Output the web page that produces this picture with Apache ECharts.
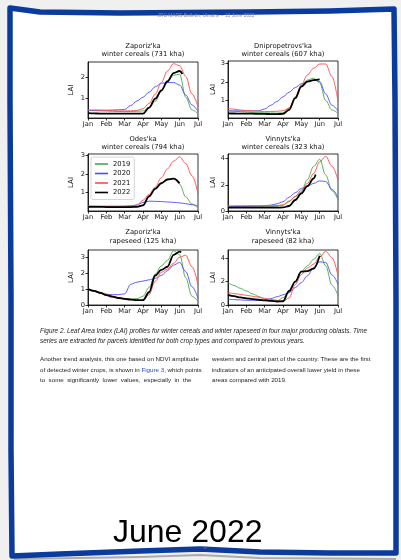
<!DOCTYPE html>
<html><head><meta charset="utf-8">
<script src="https://cdn.jsdelivr.net/npm/echarts@6/dist/echarts.min.js"></script>
<style>html,body{margin:0;padding:0;background:#f0f0f0}#c{width:401px;height:560px}</style>
</head><body><div id="c"></div>
<script>
// ---------- data ----------
const months = ['Jan','Feb','Mar','Apr','May','Jun','Jul'];
// observation dates in months since 1 Jan (dekads)
const dekads = [0,0.33,0.67,1,1.33,1.67,2,2.33,2.67,3,3.33,3.67,4,4.33,4.67,5,5.33,5.67,6];
const years = ['2019','2020','2021','2022'];

const plotTitles = [
  ["Zaporiz'ka", "winter cereals (731 kha)"],
  ["Dnipropetrovs'ka", "winter cereals (607 kha)"],
  ["Odes'ka", "winter cereals (794 kha)"],
  ["Vinnyts'ka", "winter cereals (323 kha)"],
  ["Zaporiz'ka", "rapeseed (125 kha)"],
  ["Vinnyts'ka", "rapeseed (82 kha)"]
];
const yTicks = [[1,2],[1,2,3],[1,2,3],[0,2,4],[0,1,2,3],[0,2,4]];
const yRanges = [[0.06,2.73],[0.07,3.12],[0.03,3.05],[0,4.35],[0,3.45],[0,4.7]];

// Zaporiz'ka winter cereals
const zapWc2019 = [0.42,0.41,0.4,0.39,0.38,0.37,0.37,0.37,0.38,0.4,0.55,0.85,1.35,1.85,2.1,2.15,1.05,0.45,0.25];
const zapWc2020 = [0.42,0.42,0.43,0.43,0.44,0.45,0.47,0.65,0.87,1.05,1.29,1.55,1.71,1.75,1.75,1.63,1.16,0.68,0.37];
const zapWc2021 = [0.45,0.44,0.43,0.42,0.41,0.4,0.4,0.4,0.42,0.5,0.75,1.2,1.75,2.3,2.65,2.55,2.05,1.2,0.6];
const zapWc2022 = [0.29,0.28,0.27,0.27,0.27,0.27,0.27,0.27,0.27,0.27,0.55,0.98,1.37,1.8,2.2,2.3];
// Dnipropetrovs'ka winter cereals
const dniWc2019 = [0.46,0.43,0.41,0.39,0.37,0.36,0.35,0.34,0.33,0.35,0.6,1.15,1.8,2.1,2.2,1.95,1.0,0.5,0.32];
const dniWc2020 = [0.45,0.45,0.45,0.45,0.45,0.46,0.55,0.75,0.95,1.2,1.45,1.7,1.9,2.02,2.1,2.02,1.35,0.75,0.45];
const dniWc2021 = [0.58,0.54,0.5,0.47,0.45,0.43,0.42,0.42,0.43,0.46,0.6,1.2,1.84,2.37,2.73,2.96,2.96,2.29,0.95];
const dniWc2022 = [0.32,0.31,0.3,0.3,0.3,0.29,0.29,0.28,0.28,0.29,0.5,1.13,1.75,2.02,2.1,2.14];
// Odes'ka winter cereals
const odeWc2019 = [0.27,0.27,0.26,0.26,0.26,0.25,0.25,0.25,0.26,0.35,0.82,1.22,1.52,1.72,1.76,1.45,0.78,0.4,0.18];
const odeWc2020 = [0.28,0.28,0.28,0.28,0.28,0.28,0.28,0.3,0.35,0.48,0.55,0.54,0.53,0.51,0.49,0.46,0.42,0.36,0.3];
const odeWc2021 = [0.3,0.29,0.28,0.28,0.28,0.28,0.29,0.3,0.34,0.6,0.91,1.3,1.79,2.26,2.67,2.9,2.55,1.9,0.95];
const odeWc2022 = [0.25,0.25,0.25,0.24,0.24,0.24,0.24,0.24,0.25,0.33,0.8,1.2,1.5,1.7,1.75,1.5];
// Vinnyts'ka winter cereals
const vinWc2019 = [0.33,0.33,0.33,0.33,0.33,0.33,0.33,0.34,0.36,0.45,0.71,1.09,1.47,2.4,3.4,3.95,2.75,1.55,0.85];
const vinWc2020 = [0.33,0.34,0.35,0.36,0.37,0.38,0.4,0.45,0.55,0.71,1.05,1.4,1.72,1.9,2.1,2.3,2.25,1.65,1.05];
const vinWc2021 = [0.4,0.4,0.4,0.4,0.4,0.4,0.4,0.4,0.42,0.46,0.76,1.11,1.6,2.1,2.86,3.75,4.18,3.42,2.35];
const vinWc2022 = [0.26,0.26,0.25,0.25,0.25,0.25,0.25,0.25,0.25,0.27,0.38,0.84,1.34,1.9,2.48];
// Zaporiz'ka rapeseed
const zapRs2019 = [1.0,0.87,0.75,0.62,0.52,0.44,0.4,0.38,0.4,0.55,1.1,1.95,2.45,2.8,3.4,3.15,1.7,0.55,0.22];
const zapRs2020 = [0.96,0.85,0.75,0.67,0.65,0.65,0.7,1.3,1.43,1.5,1.58,1.68,1.85,2.15,2.5,2.67,2.1,1.15,0.42];
const zapRs2021 = [1.02,0.9,0.8,0.68,0.56,0.47,0.4,0.35,0.31,0.29,0.65,1.5,2.05,2.25,2.62,3.0,3.12,2.4,1.27];
const zapRs2022 = [1.0,0.88,0.76,0.62,0.52,0.44,0.38,0.34,0.31,0.3,0.8,1.85,2.2,2.4,3.15,3.35];
// Vinnyts'ka rapeseed
const vinRs2019 = [1.91,1.67,1.43,1.2,0.96,0.73,0.49,0.4,0.34,0.63,1.06,2.0,2.85,3.35,3.9,4.4,3.35,1.7,0.8];
const vinRs2020 = [0.49,0.46,0.43,0.41,0.4,0.4,0.4,0.55,0.7,0.87,1.06,1.49,1.91,2.49,3.2,3.69,3.63,2.57,1.77];
const vinRs2021 = [1.06,0.98,0.9,0.83,0.75,0.66,0.57,0.48,0.4,0.3,0.6,1.75,2.6,3.15,3.5,4.1,4.6,4.05,2.5];
const vinRs2022 = [0.86,0.75,0.65,0.57,0.5,0.45,0.4,0.35,0.3,0.32,1.2,2.0,2.85,2.9,3.1,4.2];
// latest 2022 observation [date, LAI] (null = already in dekad list)
const last2022 = [[5.15,2.16],null,null,[4.78,2.78],[5.08,3.3],null];

const plotSeries = [
  [zapWc2019, zapWc2020, zapWc2021, zapWc2022],
  [dniWc2019, dniWc2020, dniWc2021, dniWc2022],
  [odeWc2019, odeWc2020, odeWc2021, odeWc2022],
  [vinWc2019, vinWc2020, vinWc2021, vinWc2022],
  [zapRs2019, zapRs2020, zapRs2021, zapRs2022],
  [vinRs2019, vinRs2020, vinRs2021, vinRs2022]
];

// ---------- layout / style ----------
const colors = {'2019':'#4ca64c','2020':'#4c4cff','2021':'#ff4c4c','2022':'#000000'};
const gridBoxes = [
  {left:88, top:62, width:110, height:56},
  {left:228, top:61, width:110, height:57},
  {left:88, top:154, width:110, height:57},
  {left:228, top:154, width:110, height:57},
  {left:88, top:250, width:110, height:55},
  {left:228, top:250, width:110, height:55}
];
const titleY = [[46,54.5],[46,54.5],[139,147.5],[139,147.5],[232,241],[232,241]];
const FONT = 'DejaVu Sans';

const grid = [], xAxis = [], yAxis = [], series = [];
gridBoxes.forEach((b, k) => {
  grid.push(Object.assign({show:true, borderColor:'#000', borderWidth:0.8, backgroundColor:'transparent'}, b));
  xAxis.push({
    type:'value', gridIndex:k, min:0, max:6, interval:1,
    axisLine:{show:true, onZero:false, lineStyle:{color:'#000', width:0.8}},
    axisTick:{show:true, inside:false, length:2.5, lineStyle:{color:'#000', width:0.8}},
    splitLine:{show:false},
    axisLabel:{fontFamily:FONT, fontSize:6.7, color:'#111', margin:3, formatter:v => months[v]}
  });
  yAxis.push({
    type:'value', gridIndex:k, min:yRanges[k][0], max:yRanges[k][1],
    name:'LAI', nameLocation:'middle', nameGap:(k % 2 === 0 ? 13 : 11),
    nameTextStyle:{fontFamily:FONT, fontSize:7, color:'#111'},
    axisLine:{show:true, onZero:false, lineStyle:{color:'#000', width:0.8}},
    axisTick:{show:true, inside:false, length:2.5, customValues:yTicks[k], lineStyle:{color:'#000', width:0.8}},
    splitLine:{show:false},
    axisLabel:{fontFamily:FONT, fontSize:6.7, color:'#111', margin:3, customValues:yTicks[k]}
  });
  plotSeries[k].forEach((vals, j) => {
    const yr = years[j];
    const data = vals.map((v, i) => [dekads[i], v]);
    if (yr === '2022' && last2022[k]) data.push(last2022[k]);
    series.push({
      type:'line', name:yr, xAxisIndex:k, yAxisIndex:k, data:data,
      symbol:'none', smooth:0.35, smoothMonotone:'x', silent:true,
      color:colors[yr], z: 2 + j,
      lineStyle:{color:colors[yr], width:(yr === '2022' ? 1.8 : 0.9)}
    });
  });
});

const graphic = [];
// page border
graphic.push({
  type:'polygon', z:-10, silent:true,
  shape:{points:[[10,8],[40,12],[120,13],[250,12],[330,11],[394,9],[395,100],[396,300],[396,450],[396,553],
                 [330,553],[260,552],[200,549],[140,551],[60,554],[12,556],[11,450],[11,300],[10,100]]},
  style:{fill:'#ffffff', stroke:'#0b3b9c', lineWidth:5.5, lineJoin:'round'}
});
graphic.push({type:'polyline', z:-11, silent:true,
  shape:{points:[[14,559],[140,557],[200,555],[260,558],[396,559]]},
  style:{stroke:'#aaaaaa', lineWidth:2, fill:null}});
// plot titles
plotTitles.forEach((t, k) => {
  const cx = gridBoxes[k].left + gridBoxes[k].width / 2;
  t.forEach((line, li) => graphic.push({type:'text', z:10, silent:true,
    style:{text:line, x:cx, y:titleY[k][li], align:'center', verticalAlign:'middle',
           font:'6.8px "DejaVu Sans"', fill:'#111'}}));
});
function txt(text, x, y, font, fill, align) {
  graphic.push({type:'text', z:10, silent:true,
    style:{text:text, x:x, y:y, align:align || 'left', verticalAlign:'middle', font:font, fill:fill}});
}
txt('JRC MARS Bulletin, Ukraine \u2013 13 June 2022', 206, 16, '4.9px "Liberation Sans"', '#8a8a8a', 'center');
const capFont = 'italic 6.4px "Liberation Sans"';
txt('Figure 2. Leaf Area Index (LAI) profiles for winter cereals and winter rapeseed in four major producing oblasts. Time', 40, 331, capFont, '#222');
txt('series are extracted for parcels identified for both crop types and compared to previous years.', 40, 341.5, capFont, '#222');
const bodyFont = '6.2px "Liberation Sans"';
txt('Another trend analysis, this one based on NDVI amplitude', 40, 359.5, bodyFont, '#222');
graphic.push({type:'text', z:10, silent:true, style:{
  text:'{a|of detected winter crops, is shown in }{b|Figure 3}{a|, which points}', x:40, y:370, verticalAlign:'middle',
  rich:{a:{font:bodyFont, fill:'#222'}, b:{font:bodyFont, fill:'#1f4fd0'}}}});
txt('to  some  significantly  lower  values,  especially  in  the', 40, 380.5, bodyFont, '#222');
txt('western and central part of the country. These are the first', 212, 359.5, bodyFont, '#222');
txt('indicators of an anticipated overall lower yield in these', 212, 370, bodyFont, '#222');
txt('areas compared with 2019.', 212, 380.5, bodyFont, '#222');
txt('June 2022', 113, 533, '32px "Liberation Sans"', '#000');
txt('18', 205, 548, '4px "Liberation Sans"', '#777', 'center');

const chart = echarts.init(document.getElementById('c'), null, {renderer:'canvas'});
chart.setOption({
  backgroundColor:'#f0f0f0',
  animation:false,
  grid, xAxis, yAxis, series, graphic,
  legend:{
    data:years.map(y => ({name:y, icon:'rect'})),
    selectedMode:false, orient:'vertical', left:91, top:157,
    itemWidth:13, itemHeight:1.6, itemGap:1.5,
    padding:[3,4,3,4], borderColor:'#cccccc', borderWidth:0.8, borderRadius:2,
    backgroundColor:'rgba(255,255,255,0.85)',
    textStyle:{fontFamily:FONT, fontSize:6.8, color:'#111', lineHeight:8}
  }
});
</script></body></html>
